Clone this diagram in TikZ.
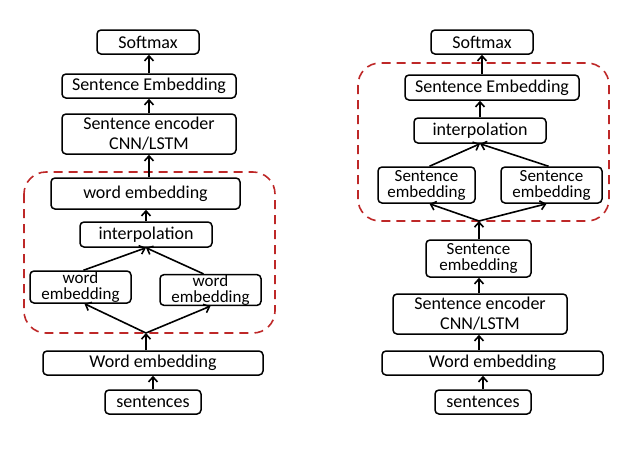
\documentclass[tikz,border=0pt]{standalone}
\usepackage{fontspec}
\setmainfont{Carlito}
\usetikzlibrary{arrows.meta}
\definecolor{dred}{RGB}{190,40,40}
\tikzset{
  box/.style={draw=black, line width=1.5pt, rounded corners=4pt, inner sep=0pt, align=center, font=\fontsize{18}{20}\selectfont},
  tight/.style={font=\fontsize{17}{16}\selectfont},
  arr/.style={line width=1.6pt, -{Straight Barb[length=5pt,width=9pt,line width=1.6pt]}},
  grp/.style={draw=dred, line width=1.6pt, dash pattern=on 9pt off 6pt, rounded corners=22pt}
}
\begin{document}
\begin{tikzpicture}[x=1pt,y=-1pt]
\useasboundingbox (0,0) rectangle (632,448);
% groups
\draw[grp] (24,172) rectangle (275,333);
\draw[grp] (358,63) rectangle (609,221);
% left column
\node[box, minimum width=102, minimum height=24] (soft1) at (148,42) {Softmax};
\node[box, minimum width=174, minimum height=24] (se1) at (149,86) {Sentence Embedding};
\node[box, minimum width=174, minimum height=40] (enc1) at (149,134) {Sentence encoder\\CNN/LSTM};
\node[box, minimum width=189, minimum height=31] (we1) at (145.5,193.5) {word embedding};
\node[box, minimum width=132, minimum height=25] (int1) at (146,234.5) {interpolation};
\node[box, tight, minimum width=101, minimum height=32] (wl1) at (80.5,287) {word\\embedding};
\node[box, tight, minimum width=101, minimum height=30] (wr1) at (210.5,290) {word\\embedding};
\node[box, minimum width=220, minimum height=24] (We1) at (153,363) {Word embedding};
\node[box, minimum width=96, minimum height=24] (sen1) at (153,402) {sentences};
\coordinate (fan1) at (146,333);
\draw[arr] (se1.north) -- (se1.north |- soft1.south);
\draw[arr] (enc1.north) -- (se1.south);
\draw[arr] (we1.north -| enc1.north) -- (enc1.south);
\draw[arr] (int1.north) -- (int1.north |- we1.south);
\draw[arr] ([xshift=3pt]wl1.north) -- (int1.south);
\draw[arr] ([xshift=-7pt]wr1.north) -- (int1.south);
\draw[arr] (fan1) -- ([xshift=4pt]wl1.south);
\draw[arr] (fan1) -- (wr1.south);
\draw[arr] (fan1 |- We1.north) -- (fan1);
\draw[arr] (sen1.north) -- (We1.south);
% right column
\node[box, minimum width=102, minimum height=24] (soft2) at (482,42) {Softmax};
\node[box, minimum width=174, minimum height=25] (se2) at (492,87.5) {Sentence Embedding};
\node[box, minimum width=132, minimum height=25] (int2) at (480,130.5) {interpolation};
\node[box, tight, minimum width=97, minimum height=36] (sl2) at (426.5,185) {Sentence\\embedding};
\node[box, tight, minimum width=101, minimum height=36] (sr2) at (551.5,185) {Sentence\\embedding};
\node[box, tight, minimum width=105, minimum height=37] (se3) at (478.5,258.5) {Sentence\\embedding};
\node[box, minimum width=174, minimum height=40] (enc2) at (480,314) {Sentence encoder\\CNN/LSTM};
\node[box, minimum width=221, minimum height=24] (We2) at (492.5,363) {Word embedding};
\node[box, minimum width=96, minimum height=24] (sen2) at (483,402) {sentences};
\coordinate (fan2) at (479,221);
\draw[arr] (soft2.south |- se2.north) -- (soft2.south);
\draw[arr] (int2.north) -- (int2.north |- se2.south);
\draw[arr] ([xshift=3pt]sl2.north) -- (int2.south);
\draw[arr] ([xshift=-3pt]sr2.north) -- (int2.south);
\draw[arr] (fan2) -- ([xshift=3pt]sl2.south);
\draw[arr] (fan2) -- ([xshift=-5pt]sr2.south);
\draw[arr] (fan2 |- se3.north) -- (fan2);
\draw[arr] (enc2.north -| fan2) -- (fan2 |- se3.south);
\draw[arr] (We2.north -| fan2) -- (fan2 |- enc2.south);
\draw[arr] (sen2.north) -- (sen2.north |- We2.south);
\end{tikzpicture}
\end{document}
